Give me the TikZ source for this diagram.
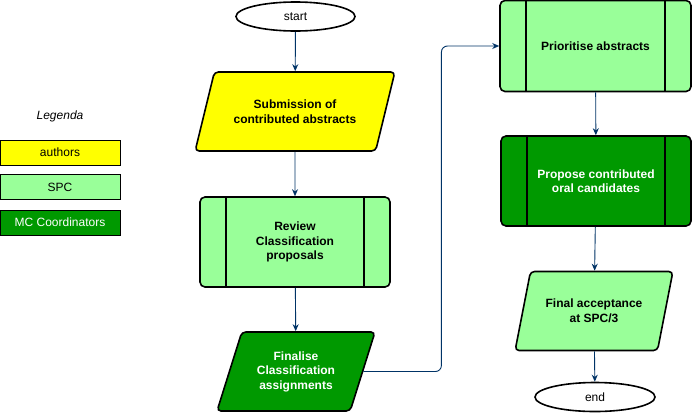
\documentclass[tikz,border=0pt]{standalone}
\usepackage{fontspec}
\setmainfont{Liberation Sans}
\usetikzlibrary{shapes.geometric, arrows.meta, calc}

\definecolor{authorsyellow}{HTML}{FFFF00}
\definecolor{spcgreen}{HTML}{99FF99}
\definecolor{mcgreen}{HTML}{009900}
\definecolor{flowblue}{HTML}{003366}

\begin{document}
\begin{tikzpicture}[x=1pt, y=-1pt,
    every node/.style={align=center, inner sep=2pt, font=\fontsize{12}{14.5}\selectfont},
    terminal/.style={ellipse, draw, line width=1.6pt, fill=white, minimum width=119pt, minimum height=29pt},
    io/.style={trapezium, trapezium stretches=true, draw, line width=1.6pt, rounded corners=4pt, minimum height=79pt, font=\fontsize{12}{14.5}\selectfont\bfseries},
    process/.style={rectangle, draw, line width=1.6pt, rounded corners=5pt, minimum width=190pt, minimum height=90pt, font=\fontsize{12}{14.5}\selectfont\bfseries},
    legend/.style={rectangle, draw, line width=0.9pt, minimum width=120pt, minimum height=25pt},
    flow/.style={-{Stealth[length=7pt, width=6pt]}, draw=flowblue, line width=0.9pt}]
    \useasboundingbox (0,0) rectangle (692,413);

    % Legend
    \node (legenda) at (60,116) {\itshape Legenda};
    \node[legend, fill=authorsyellow] (leg-authors) at (60,152.5) {authors};
    \node[legend, fill=spcgreen] (leg-spc) at (60,187) {SPC};
    \node[legend, fill=mcgreen, text=white] (leg-mc) at (60,222.5) {MC Coordinators};

    % Left column
    \node[terminal] (start) at (295.5,16.5) {start};
    \node[io, fill=authorsyellow, minimum width=200pt, trapezium left angle=61, trapezium right angle=119] (submission) at (295,111.5) {Submission of\\contributed abstracts};
    \node[process, fill=spcgreen] (review) at (295,242) {Review\\Classification\\proposals};
    \node[io, fill=mcgreen, text=white, minimum width=158pt, trapezium left angle=67, trapezium right angle=113] (finalise) at (296,371.5) {Finalise\\Classification\\assignments};

    % Right column
    \node[process, fill=spcgreen, minimum width=191pt, minimum height=91pt] (prioritise) at (595.5,46) {Prioritise abstracts};
    \node[process, fill=mcgreen, text=white] (propose) at (596,181) {Propose contributed\\oral candidates};
    \node[io, fill=spcgreen, minimum width=158pt, trapezium left angle=66, trapezium right angle=114] (acceptance) at (594,311) {Final acceptance\\at SPC/3};
    \node[terminal, minimum width=120pt] (end) at (595,397) {end};

    % Inner bars of the process boxes
    \foreach \n in {review, prioritise, propose} {
        \draw[line width=1.6pt] ($(\n.north west)+(27,0)$) -- ($(\n.south west)+(27,0)$);
        \draw[line width=1.6pt] ($(\n.north east)+(-27,0)$) -- ($(\n.south east)+(-27,0)$);
    }

    % Flow
    \draw[flow] (start) -- (submission);
    \draw[flow] (submission) -- (review);
    \draw[flow] (review) -- (finalise);
    \draw[flow, rounded corners=6pt] (finalise.east) -- ++(78,0) |- (prioritise.west);
    \draw[flow] (prioritise) -- (propose);
    \draw[flow] (propose) -- (acceptance);
    \draw[flow] (acceptance) -- (end);
\end{tikzpicture}
\end{document}
